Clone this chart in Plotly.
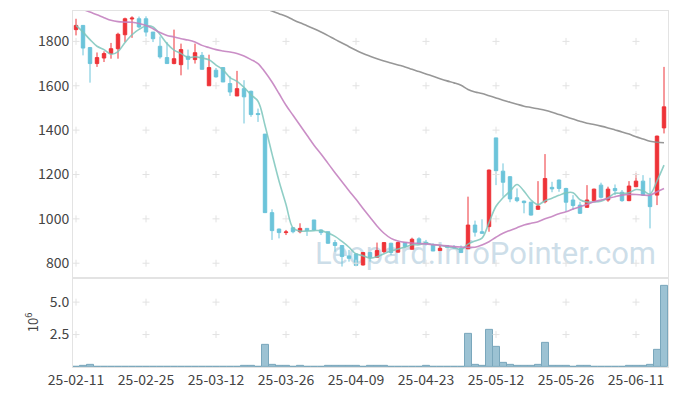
import plotly.graph_objects as go

dates = ["25-02-11","25-02-12","25-02-13","25-02-14","25-02-17","25-02-18","25-02-19","25-02-20","25-02-21","25-02-24",
         "25-02-25","25-02-26","25-02-27","25-02-28","25-03-04","25-03-05","25-03-06","25-03-07","25-03-10","25-03-11",
         "25-03-12","25-03-13","25-03-14","25-03-17","25-03-18","25-03-19","25-03-20","25-03-21","25-03-24","25-03-25",
         "25-03-26","25-03-27","25-03-28","25-03-31","25-04-01","25-04-02","25-04-03","25-04-04","25-04-07","25-04-08",
         "25-04-09","25-04-10","25-04-11","25-04-14","25-04-15","25-04-16","25-04-17","25-04-18","25-04-21","25-04-22",
         "25-04-23","25-04-24","25-04-25","25-04-28","25-04-29","25-04-30","25-05-02","25-05-07","25-05-08","25-05-09",
         "25-05-12","25-05-13","25-05-14","25-05-15","25-05-16","25-05-19","25-05-20","25-05-21","25-05-22","25-05-23",
         "25-05-26","25-05-27","25-05-28","25-05-29","25-05-30","25-06-02","25-06-04","25-06-05","25-06-09","25-06-10",
         "25-06-11","25-06-12","25-06-13","25-06-16","25-06-17"]

open_ = [1853,1872,1772,1700,1725,1745,1767,1830,1901,1902,
         1902,1842,1778,1727,1700,1695,1733,1718,1737,1600,
         1670,1682,1610,1554,1587,1575,1475,1382,1028,954,
         938,960,942,957,995,950,942,893,880,833,
         842,792,848,827,852,890,850,893,863,910,
         894,882,857,880,873,867,865,972,942,965,
         1365,1215,1190,1095,1080,1075,1043,1077,1142,1175,
         1137,1085,1062,1052,1082,1152,1085,1137,1120,1082,
         1145,1170,1107,1107,1410]
high = [1902,1874,1775,1750,1755,1793,1839,1907,1913,1912,
        1913,1842,1822,1797,1853,1790,1763,1790,1752,1740,
        1680,1682,1643,1667,1625,1578,1497,1382,1043,956,
        950,962,980,958,995,952,942,905,882,860,
        845,850,850,893,895,892,897,895,915,917,
        905,890,880,882,882,880,1100,992,998,1222,
        1365,1250,1192,1137,1082,1077,1170,1292,1167,1177,
        1140,1107,1077,1152,1136,1163,1145,1155,1130,1170,
        1205,1197,1185,1375,1685]
low = [1827,1737,1614,1685,1707,1722,1722,1797,1816,1860,
       1822,1797,1722,1700,1697,1647,1673,1700,1674,1600,
       1637,1617,1554,1554,1430,1460,1437,1028,905,912,
       927,935,935,923,948,927,888,852,785,807,
       789,790,807,825,845,837,848,867,862,882,
       880,855,857,870,865,848,865,920,933,942,
       1152,1100,1075,1075,1025,1015,1040,1070,1120,1122,
       1032,1040,1022,1050,1080,1092,1077,1107,1077,1080,
       1143,1105,957,1062,1385]
close = [1872,1770,1700,1727,1745,1767,1832,1902,1905,1865,
         1842,1812,1730,1700,1722,1763,1719,1749,1674,1682,
         1640,1617,1572,1587,1550,1470,1470,1028,947,938,
         941,942,957,947,950,938,890,880,830,822,
         790,848,827,857,893,848,893,875,908,890,
         887,855,867,872,870,848,972,940,935,1220,
         1217,1165,1090,1082,1073,1017,1058,1182,1135,1137,
         1075,1060,1025,1085,1134,1097,1134,1127,1082,1148,
         1170,1107,1055,1373,1505]

ma5 = [1872,1842,1808,1778,1763,1742,1754,1795,1830,1854,
       1869,1865,1831,1790,1761,1745,1727,1731,1725,1717,
       1693,1672,1637,1620,1593,1559,1530,1421,1293,1171,
       1065,959,945,945,947,947,936,921,898,872,
       842,834,823,829,843,855,864,873,883,883,
       891,883,881,874,870,862,886,900,913,983,
       1057,1095,1125,1155,1125,1085,1064,1082,1093,1106,
       1117,1118,1086,1076,1076,1080,1095,1115,1115,1118,
       1132,1127,1112,1171,1242]

ma20 = [1965,1945,1932,1920,1907,1895,1889,1887,1886,1881,
        1872,1857,1840,1827,1820,1812,1806,1797,1782,1772,
        1763,1757,1752,1745,1734,1718,1700,1662,1617,1565,
        1512,1467,1422,1377,1332,1292,1250,1208,1167,1127,
        1088,1047,1007,968,935,912,900,894,891,889,
        887,884,881,878,875,873,872,872,882,897,
        917,935,948,960,972,980,987,1000,1011,1023,
        1032,1044,1055,1065,1077,1085,1092,1100,1107,1110,
        1110,1107,1107,1122,1137]

ma60 = [None]*27 + [1950,1937,1925,
        1913,1898,1884,1871,1857,1842,1826,1809,1793,1776,
        1760,1745,1733,1722,1712,1703,1694,1685,1674,1664,
        1653,1643,1632,1622,1613,1602,1583,1572,1565,1555,
        1545,1535,1526,1517,1508,1502,1496,1490,1481,1470,
        1460,1450,1440,1431,1425,1418,1410,1401,1392,1382,
        1370,1360,1350,1345,1343]

volume = [0,0.06,0.15,0,0,0,0,0,0,0,
          0,0,0,0,0,0,0,0,0,0,
          0,0,0,0,0.07,0.07,0,1.69,0.2,0.07,
          0.07,0,0.07,0,0,0,0.07,0.07,0.07,0.07,
          0.07,0,0.07,0.07,0.07,0,0,0,0,0,
          0.07,0,0,0,0,0,2.54,0.13,0.06,2.85,
          1.54,0.31,0.15,0.07,0.07,0.07,0.15,1.87,0.07,0.07,
          0.07,0,0.07,0.07,0,0,0,0,0,0.07,
          0.07,0.07,0.15,1.33,6.25]

price_ticks = [800, 1000, 1200, 1400, 1600, 1800]
vol_ticks = [2.5, 5.0]
vol_ticktext = ["2.5", "5.0"]
x_ticks = dates[::10]

FONT = "Noto Sans CJK KR, Noto Sans, sans-serif"
RED = "#ee3338"
BLUE = "#6cc4da"

fig = go.Figure()

fig.add_trace(go.Candlestick(x=dates, open=open_, high=high, low=low, close=close,
                             increasing=dict(line=dict(color=RED, width=1), fillcolor=RED),
                             decreasing=dict(line=dict(color=BLUE, width=1), fillcolor=BLUE),
                             whiskerwidth=0, showlegend=False, xaxis="x", yaxis="y"))
fig.add_trace(go.Bar(x=dates, y=volume, marker=dict(color="#9cc2d3", line=dict(color="#7aa7bc", width=1)),
                     showlegend=False, xaxis="x2", yaxis="y2"))

# grid crosses
gx, gy = [], []
for xv in x_ticks:
    for yv in price_ticks:
        gx.append(xv); gy.append(yv)
fig.add_trace(go.Scatter(x=gx, y=gy, mode="markers",
                         marker=dict(symbol="cross-thin", size=5, line=dict(width=1, color="#e2e2e2")),
                         hoverinfo="skip", showlegend=False, xaxis="x", yaxis="y"))
vx, vy = [], []
for xv in x_ticks:
    for yv in vol_ticks:
        vx.append(xv); vy.append(yv)
fig.add_trace(go.Scatter(x=vx, y=vy, mode="markers",
                         marker=dict(symbol="cross-thin", size=5, line=dict(width=1, color="#e2e2e2")),
                         hoverinfo="skip", showlegend=False, xaxis="x2", yaxis="y2"))

fig.add_trace(go.Scatter(x=dates, y=ma5, mode="lines", line=dict(color="rgba(125,198,188,0.85)", width=1.6, shape="spline"),
                         showlegend=False, xaxis="x", yaxis="y"))
fig.add_trace(go.Scatter(x=dates, y=ma20, mode="lines", line=dict(color="rgba(196,130,192,0.9)", width=1.6, shape="spline"),
                         showlegend=False, xaxis="x", yaxis="y"))
fig.add_trace(go.Scatter(x=dates, y=ma60, mode="lines", line=dict(color="rgba(140,140,140,0.9)", width=1.6, shape="spline"),
                         showlegend=False, xaxis="x", yaxis="y"))

# watermark behind the marks
fig.add_shape(type="rect", xref="paper", yref="paper", x0=0.41, x1=0.99, y0=0.27, y1=0.38,
              layer="below", line=dict(width=0), fillcolor="rgba(0,0,0,0)",
              label=dict(text="Leopard.InfoPointer.com", textposition="middle right",
                         font=dict(family="Roboto, Noto Sans, sans-serif", size=31, color="rgba(172,201,218,0.6)")))

axis_line = "#e3e3e3"
tickfont = dict(family=FONT, size=14, color="#444")
split = 0.2504
# the page body adds an 8px offset; size the figure so the plot area lands where the reference has it
fig.update_layout(
    width=669, height=388,
    margin=dict(l=65, r=9, t=3, b=29, autoexpand=False),
    paper_bgcolor="white", plot_bgcolor="white",
    showlegend=False, bargap=0,
    font=dict(family=FONT, color="#444"),
    xaxis=dict(domain=[0, 1], anchor="y", type="category", categoryorder="array", categoryarray=dates,
               range=[-0.43, 84.57], automargin=False,
               showticklabels=False, showgrid=False, zeroline=False,
               showline=True, mirror=True, linecolor=axis_line, rangeslider=dict(visible=False),
               ticks=""),
    yaxis=dict(domain=[split, 1], anchor="x", range=[734, 1937], tickvals=price_ticks, automargin=False,
               showgrid=False, zeroline=False, showline=True, mirror=True, linecolor=axis_line,
               ticks="", tickfont=tickfont),
    xaxis2=dict(domain=[0, 1], anchor="y2", type="category", categoryorder="array", categoryarray=dates,
                range=[-0.43, 84.57], matches="x", tickangle=0, automargin=False,
                tickvals=x_ticks, ticktext=x_ticks, showgrid=False, zeroline=False,
                showline=True, mirror=True, linecolor=axis_line, ticks="", tickfont=tickfont),
    yaxis2=dict(domain=[0, split], anchor="x2", range=[0, 6.87], tickvals=vol_ticks, ticktext=vol_ticktext,
                automargin=False,
                showgrid=False, zeroline=False, showline=True, mirror=True, linecolor=axis_line,
                ticks="", tickfont=tickfont,
                title=dict(text="10<sup>6</sup>", font=dict(family=FONT, size=13, color="#444"), standoff=8)),
)

fig.write_html("out.html")
